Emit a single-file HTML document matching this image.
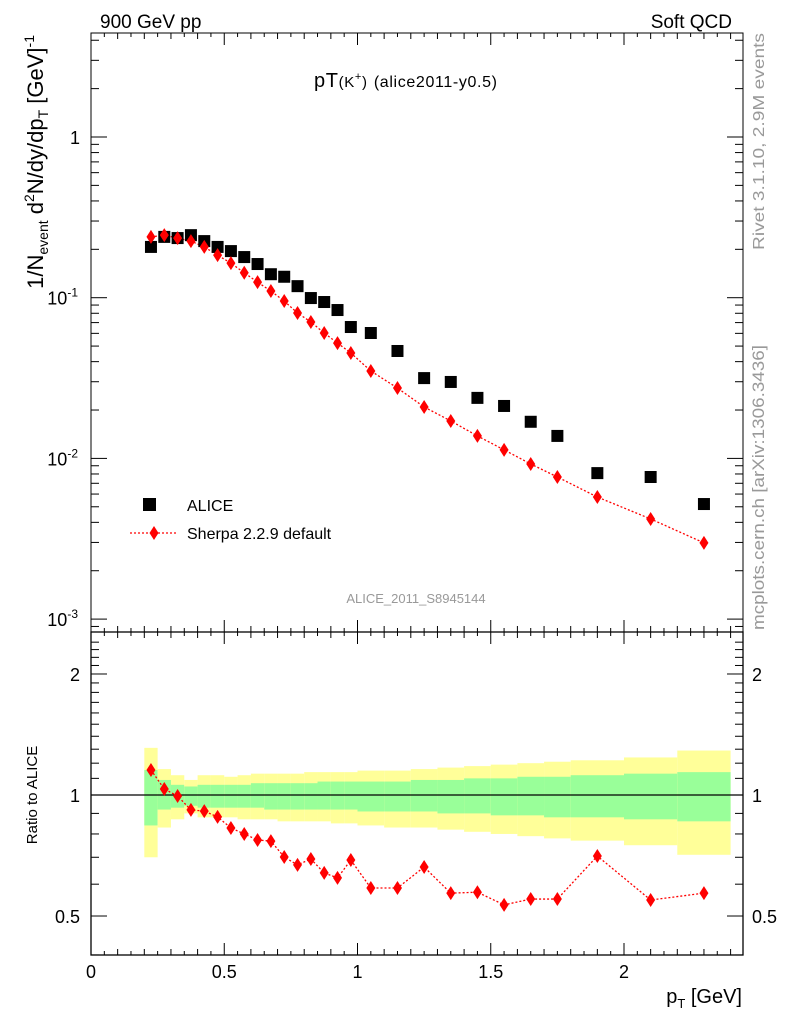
<!DOCTYPE html>
<html><head><meta charset="utf-8"><style>
body{margin:0;background:#fff;}
svg{display:block;font-family:"Liberation Sans",sans-serif;}
</style></head><body>
<svg id="c" width="786" height="1024">
<g id="bands"></g>
<g id="grid"></g>
<g id="marks"></g>
<text x="100" y="28" font-size="19">900 GeV pp</text>
<text x="732" y="28" font-size="19" text-anchor="end">Soft QCD</text>
<text x="314" y="87" font-size="20" textLength="183">pT<tspan font-size="15">(K<tspan dy="-7" font-size="11">+</tspan><tspan dy="7">)</tspan></tspan> <tspan font-size="16">(alice2011-y0.5)</tspan></text>
<text x="416" y="603" font-size="13" fill="#999" text-anchor="middle">ALICE_2011_S8945144</text>
<text transform="translate(764,33) rotate(-90)" font-size="16" fill="#999" text-anchor="end" textLength="217" lengthAdjust="spacingAndGlyphs">Rivet 3.1.10,  2.9M events</text>
<text transform="translate(764,630) rotate(-90)" font-size="17" fill="#999" textLength="285" lengthAdjust="spacingAndGlyphs">mcplots.cern.ch [arXiv:1306.3436]</text>
<text transform="translate(43,35) rotate(-90)" font-size="22" text-anchor="end">1/N<tspan font-size="14" dy="5">event</tspan><tspan dy="-5"> d</tspan><tspan font-size="14" dy="-9">2</tspan><tspan dy="9">N/dy/dp</tspan><tspan font-size="14" dy="5">T</tspan><tspan dy="-5"> [GeV]</tspan><tspan font-size="14" dy="-9">-1</tspan></text>
<text transform="translate(37,795) rotate(-90)" font-size="15" text-anchor="middle">Ratio to ALICE</text>
<text x="742" y="1003" font-size="20" text-anchor="end">p<tspan font-size="13" dy="5">T</tspan><tspan dy="-5"> [GeV]</tspan></text>
<rect x="143" y="498" width="13" height="13" fill="#000"/>
<text x="187" y="511" font-size="16">ALICE</text>
<line x1="130" y1="533" x2="178" y2="533" stroke="red" stroke-width="1.3" stroke-dasharray="2,2"/>
<path d="M154,526 L158.5,533 L154,540 L149.5,533Z" fill="red"/>
<text x="187" y="539" font-size="16">Sherpa 2.2.9 default</text>
</svg>
<script>
const xs=[0.225,0.275,0.325,0.375,0.425,0.475,0.525,0.575,0.625,0.675,0.725,0.775,0.825,0.875,0.925,0.975,1.05,1.15,1.25,1.35,1.45,1.55,1.65,1.75,1.9,2.1,2.3];
const edges=[0.2,0.25,0.3,0.35,0.4,0.45,0.5,0.55,0.6,0.65,0.7,0.75,0.8,0.85,0.9,0.95,1.0,1.1,1.2,1.3,1.4,1.5,1.6,1.7,1.8,2.0,2.2,2.4];
const alice=[0.207,0.239,0.235,0.245,0.225,0.207,0.195,0.179,0.162,0.140,0.135,0.118,0.0995,0.094,0.0838,0.0657,0.0603,0.0466,0.0316,0.0299,0.0238,0.0212,0.0169,0.0138,0.0081,0.00766,0.0052];
const sherpa=[0.239,0.245,0.235,0.225,0.207,0.184,0.164,0.143,0.125,0.110,0.0953,0.0803,0.0706,0.0603,0.0522,0.0453,0.035,0.0274,0.0209,0.0171,0.0138,0.0113,0.00923,0.00766,0.00575,0.0042,0.00298];
const ratio=[1.154,1.035,0.994,0.918,0.912,0.882,0.828,0.800,0.773,0.768,0.701,0.670,0.693,0.640,0.622,0.689,0.587,0.587,0.662,0.570,0.573,0.533,0.551,0.551,0.705,0.548,0.570];
const yelHi=[1.31,1.16,1.12,1.09,1.12,1.12,1.11,1.12,1.13,1.13,1.13,1.13,1.14,1.14,1.14,1.14,1.15,1.15,1.16,1.17,1.18,1.19,1.2,1.21,1.22,1.24,1.29];
const yelLo=[0.70,0.83,0.87,0.90,0.88,0.88,0.88,0.87,0.87,0.87,0.86,0.86,0.86,0.86,0.85,0.85,0.84,0.83,0.83,0.82,0.81,0.80,0.79,0.78,0.77,0.75,0.71];
const grnHi=[1.154,1.09,1.06,1.05,1.06,1.06,1.06,1.06,1.07,1.07,1.07,1.07,1.07,1.08,1.08,1.08,1.08,1.08,1.09,1.09,1.10,1.10,1.11,1.11,1.12,1.13,1.14];
const grnLo=[0.84,0.92,0.93,0.94,0.93,0.93,0.93,0.93,0.93,0.92,0.92,0.92,0.92,0.92,0.92,0.92,0.91,0.91,0.91,0.90,0.90,0.89,0.89,0.88,0.88,0.87,0.86];
const xTicks=["0","0.5","1","1.5","2"];
const NS="http://www.w3.org/2000/svg";
const L=91,R=743,T=33,M=632,B=955;
const X=v=>L+v*266.5;
const Y=v=>137-Math.log10(v)*160.7;
const YR=v=>795-Math.log10(v)*402;
function mk(p,t,a){const e=document.createElementNS(NS,t);for(const k in a)e.setAttribute(k,a[k]);p.appendChild(e);return e;}
const gb=document.getElementById('bands'),gg=document.getElementById('grid'),gm=document.getElementById('marks');
for(let i=0;i<xs.length;i++){
  const x0=X(edges[i]),x1=X(edges[i+1]);
  const y=mk(gb,'rect',{x:x0,y:YR(yelHi[i]),width:x1-x0,height:YR(yelLo[i])-YR(yelHi[i]),fill:'#ffff99'});
  
  
  const g=mk(gb,'rect',{x:x0,y:YR(grnHi[i]),width:x1-x0,height:YR(grnLo[i])-YR(grnHi[i]),fill:'#99ff99'});
  
  
}
mk(gg,'line',{x1:L,y1:YR(1),x2:R,y2:YR(1),stroke:'#000','stroke-width':1.2});
mk(gg,'rect',{x:L,y:T,width:R-L,height:M-T,fill:'none',stroke:'#000','stroke-width':1});
mk(gg,'rect',{x:L,y:M,width:R-L,height:B-M,fill:'none',stroke:'#000','stroke-width':1.3});
for(let k=0;k<=48;k++){const v=k*0.05;const h=(k%10==0)?12:(k%2==0?6:4);
  for(const [y0,d] of [[M,-1],[T,1],[B,-1],[M,1]]) mk(gg,'line',{x1:X(v),x2:X(v),y1:y0,y2:y0+d*h,stroke:'#000'});}
xTicks.forEach(t=>{const e=mk(gg,'text',{x:X(+t),y:978,'font-size':18,'text-anchor':'middle'});e.textContent=t;
  
  });
for(let d=-4;d<=0;d++)for(let m=1;m<10;m++){const v=m*Math.pow(10,d);const y=Y(v);if(y<T||y>M)continue;const h=m==1?16:8;
  mk(gg,'line',{x1:L,x2:L+h,y1:y,y2:y,stroke:'#000'});mk(gg,'line',{x1:R,x2:R-h,y1:y,y2:y,stroke:'#000'});}
[[1,'1'],[0.1,'10','-1'],[0.01,'10','-2'],[0.001,'10','-3']].forEach(([v,b,e])=>{const t=mk(gg,'text',{x:e?78:80,y:Y(v)+7,'font-size':18,'text-anchor':'end'});
  t.textContent=b;if(e){const s=mk(t,'tspan',{dy:-8,'font-size':12});s.textContent=e;}
  
  });
for(let v=0.4;v<=2.5;v+=0.1){const y=YR(v);if(y<M||y>B)continue;const major=[0.5,1,2].some(q=>Math.abs(q-v)<1e-6);const h=major?16:8;
  mk(gg,'line',{x1:L,x2:L+h,y1:y,y2:y,stroke:'#000'});mk(gg,'line',{x1:R,x2:R-h,y1:y,y2:y,stroke:'#000'});}
[[2,'2'],[1,'1'],[0.5,'0.5']].forEach(([v,s])=>{for(const [x,a] of [[80,'end'],[752,'start']]){const t=mk(gg,'text',{x:x,y:YR(v)+7,'font-size':18,'text-anchor':a});t.textContent=s;
  
  }});
const dia=(x,y)=>`M${x},${y-7} L${x+4.5},${y} L${x},${y+7} L${x-4.5},${y}Z`;
const sl=mk(gm,'polyline',{points:xs.map((x,i)=>X(x)+','+Y(sherpa[i])).join(' '),fill:'none',stroke:'red','stroke-width':1.3,'stroke-dasharray':'2,2'});


const rl=mk(gm,'polyline',{points:xs.map((x,i)=>X(x)+','+YR(ratio[i])).join(' '),fill:'none',stroke:'red','stroke-width':1.3,'stroke-dasharray':'2,2'});


xs.forEach((x,i)=>{
  const a=mk(gm,'rect',{x:X(x)-6,y:Y(alice[i])-6,width:12,height:12,fill:'#000'});
  
  
  const s=mk(gm,'path',{d:dia(X(x),Y(sherpa[i])),fill:'red'});
  
  
  const r=mk(gm,'path',{d:dia(X(x),YR(ratio[i])),fill:'red'});
  
  
});
</script>
</body></html>
